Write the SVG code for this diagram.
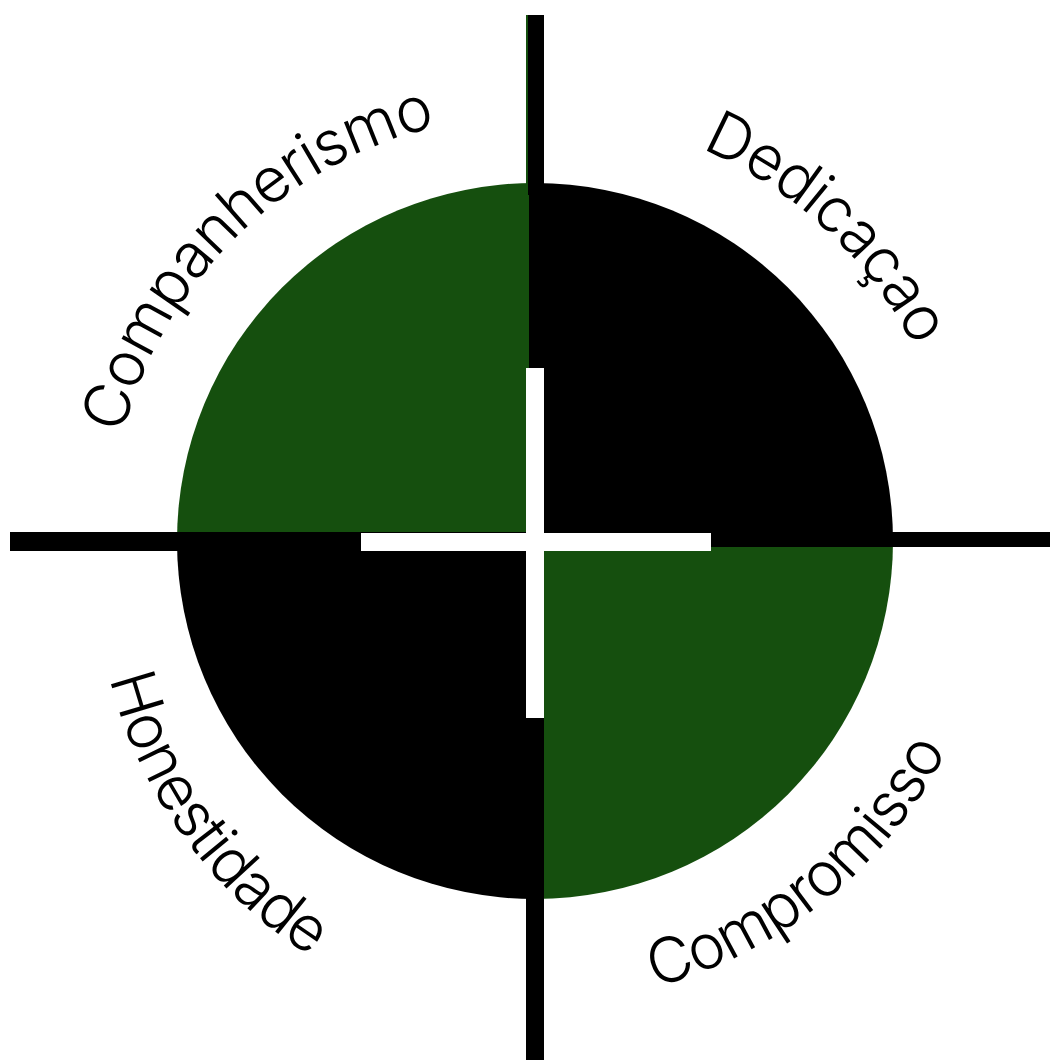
<svg xmlns="http://www.w3.org/2000/svg" width="1050" height="1060" viewBox="0 0 1050 1060">
  <style>
    .lbl { font-family: "Inter", "Open Sans", "Liberation Sans", sans-serif; font-weight: 300; font-size: 62px; letter-spacing: -1.3px; fill: #000; }
    .green { fill: #154f0e; }
    .black { fill: #000; }
    .white { fill: #fff; }
  </style>
  <defs>
    <clipPath id="disc"><circle cx="535" cy="541" r="358"/></clipPath>
    <path id="p-comp" d="M122.6,434.3 A426,426 0 0 1 609,121.5"/>
    <path id="p-ded" d="M701.4,148.9 A426,426 0 0 1 961,541"/>
    <path id="p-hon" d="M109.7,678.3 A460,460 0 0 0 476.1,1020"/>
    <path id="p-cmp" d="M654.6,987.3 A462,462 0 0 0 990,621.2"/>
  </defs>
  <rect width="1050" height="1060" fill="#fff"/>
  <g id="circle" clip-path="url(#disc)">
    <rect class="black" x="529" y="170" width="380" height="377"/>
    <rect class="black" x="170" y="532" width="374" height="380"/>
    <rect class="green" x="170" y="170" width="359" height="362"/>
    <rect class="green" x="544" y="547" width="365" height="365"/>
  </g>
  <g id="connectors">
    <rect class="green" x="526" y="15" width="2.5" height="172"/>
    <rect class="black" x="528" y="15" width="16" height="180"/>
    <rect class="black" x="526" y="890" width="18" height="170"/>
    <rect class="black" x="10" y="532" width="172" height="19"/>
    <rect class="black" x="888" y="532" width="162" height="15"/>
  </g>
  <g id="cross">
    <rect class="white" x="526" y="368" width="18" height="350"/>
    <rect class="white" x="361" y="533" width="350" height="18"/>
  </g>
  <g id="label-companherismo"><text class="lbl"><textPath href="#p-comp">Companherismo</textPath></text></g>
  <g id="label-dedicacao"><text class="lbl"><textPath href="#p-ded">Dedicaçao</textPath></text></g>
  <g id="label-honestidade"><text class="lbl"><textPath href="#p-hon">Honestidade</textPath></text></g>
  <g id="label-compromisso"><text class="lbl"><textPath href="#p-cmp">Compromisso</textPath></text></g>
</svg>
